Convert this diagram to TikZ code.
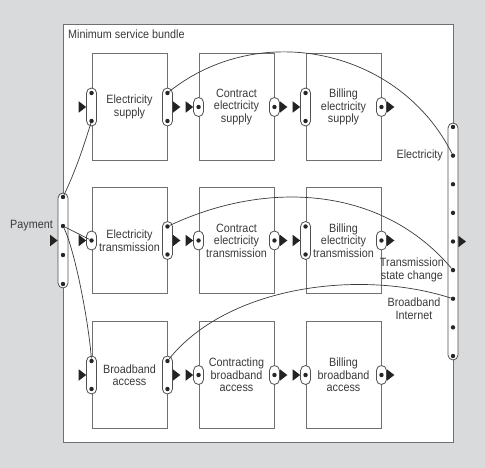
\documentclass[tikz,border=0pt]{standalone}
\usepackage{fontspec}
\setmainfont{Liberation Sans}[FakeStretch=0.9]
\usetikzlibrary{positioning,calc}
\definecolor{bggray}{RGB}{217,218,220}
\definecolor{rulegray}{RGB}{112,112,112}
\definecolor{portgray}{RGB}{80,80,80}
\definecolor{inkgray}{RGB}{58,58,58}
\definecolor{tipgray}{RGB}{35,35,35}
\newcommand\lblfont{\fontsize{12}{12.5}\selectfont}
\tikzset{
    bundle/.style   = {rectangle, draw=rulegray, line width=0.9pt, fill=white, inner sep=0pt,
                       minimum width=390pt, minimum height=418.5pt},
    unit/.style     = {rectangle, draw=rulegray, line width=0.9pt, fill=white, inner sep=0pt,
                       minimum width=75pt, minimum height=106.5pt, align=center,
                       text=inkgray, font=\lblfont},
    port/.style     = {rectangle, rounded corners=5pt, draw=portgray, line width=0.8pt,
                       fill=white, inner sep=0pt, minimum width=10pt},
    longport/.style = {port, minimum height=38pt},
    shortport/.style= {port, minimum height=19pt},
    pin/.style      = {circle, fill=black!85, minimum size=4.4pt, inner sep=0pt},
    caption/.style  = {inner sep=0pt, align=center, text=inkgray, font=\lblfont},
    link/.style     = {draw=inkgray, line width=0.7pt},
    tipr/.pic       = {\fill[tipgray] (0,5.75pt) -- (7.5pt,0) -- (0,-5.75pt) -- cycle;}
}
\begin{document}
\begin{tikzpicture}[x=1pt, y=-1pt]
    % Background and bundle frame
    \fill[bggray] (0,0) rectangle (485,468);
    \node[bundle] (msb) at (258,233.25) {};
    \node[caption, anchor=base west] (msblbl) at (68,39) {Minimum service bundle};

    % Service units (rows: supply, transmission, broadband)
    \node[unit] (sup)  at (129.5,107)   {Electricity\\supply};
    \node[unit] (csup) at (236.5,107)   {Contract\\electricity\\supply};
    \node[unit] (bsup) at (343.5,107)   {Billing\\electricity\\supply};
    \node[unit] (trn)  at (129.5,240.5) {Electricity\\transmission};
    \node[unit] (ctrn) at (236.5,240.5) {Contract\\electricity\\transmission};
    \node[unit] (btrn) at (343.5,240.5) {Billing\\electricity\\transmission};
    \node[unit] (bba)  at (129.5,375)   {Broadband\\access};
    \node[unit] (cbba) at (236.5,375)   {Contracting\\broadband\\access};
    \node[unit] (bbba) at (343.5,375)   {Billing\\broadband\\access};

    % Ports on the units
    \node[longport]  (sup-l)  at (sup.west)  {};
    \node[longport]  (sup-r)  at (sup.east)  {};
    \node[shortport] (csup-l) at (csup.west) {};
    \node[shortport] (csup-r) at (csup.east) {};
    \node[longport]  (bsup-l) at (bsup.west) {};
    \node[shortport] (bsup-r) at (bsup.east) {};
    \node[shortport] (trn-l)  at (trn.west)  {};
    \node[longport]  (trn-r)  at (trn.east)  {};
    \node[shortport] (ctrn-l) at (ctrn.west) {};
    \node[shortport] (ctrn-r) at (ctrn.east) {};
    \node[longport]  (btrn-l) at (btrn.west) {};
    \node[shortport] (btrn-r) at (btrn.east) {};
    \node[longport]  (bba-l)  at (bba.west)  {};
    \node[longport]  (bba-r)  at (bba.east)  {};
    \node[shortport] (cbba-l) at (cbba.west) {};
    \node[shortport] (cbba-r) at (cbba.east) {};
    \node[shortport] (bbba-l) at (bbba.west) {};
    \node[shortport] (bbba-r) at (bbba.east) {};

    % Bundle ports
    \node[port, minimum height=95pt]  (pay)  at (63,240.5)  {};
    \node[port, minimum height=237pt] (elec) at (453,241.5) {};

    % Pins
    \foreach \p in {sup-l,sup-r,bsup-l,trn-r,btrn-l,bba-l,bba-r} {
        \node[pin] (\p1) at ([yshift=14pt]\p.center)  {};
        \node[pin] (\p2) at ([yshift=-14pt]\p.center) {};
    }
    \foreach \p in {csup-l,csup-r,bsup-r,trn-l,ctrn-l,ctrn-r,btrn-r,cbba-l,cbba-r,bbba-l,bbba-r}
        \node[pin] (\p0) at (\p.center) {};
    \foreach \i/\dy in {1/43.5,2/14.5,3/-14.5,4/-43.5}
        \node[pin] (pay-\i) at ([yshift=\dy pt]pay.center) {};
    \foreach \i in {1,...,9}
        \node[pin] (elec-\i) at ([yshift={(5-\i)*28.625pt}]elec.center) {};

    % Flow tips
    \foreach \p in {sup-l,csup-l,bsup-l,trn-l,ctrn-l,btrn-l,bba-l,cbba-l,bbba-l,pay}
        \pic at ([xshift=-7.5pt]\p.west) {tipr};
    \foreach \p in {sup-r,csup-r,bsup-r,trn-r,ctrn-r,btrn-r,bba-r,cbba-r,bbba-r,elec}
        \pic at (\p.east) {tipr};

    % Port labels
    \node[caption, anchor=east] (paylbl) at ([xshift=-10pt]pay-2) {Payment};
    \node[caption, anchor=east] (ellbl)  at ([xshift=-10pt]elec-2) {Electricity};
    \node[caption, anchor=east] (tsclbl) at ([xshift=-9pt]elec-6) {Transmission\\state change};
    \node[caption] (bilbl) at ([xshift=-39pt,yshift=-10pt]elec-7) {Broadband\\Internet};

    % Links
    \draw[link] (pay-1) .. controls +(13,-27) and +(-7.5,24) .. (sup-l2);
    \draw[link] (pay-2) -- (trn-l0);
    \draw[link] (pay-2) .. controls +(12,25) and +(-3,-40) .. (bba-l1);
    \draw[link] (sup-r1) .. controls +(93,-74) and +(-53,-106) .. (elec-2);
    \draw[link] (trn-r1) .. controls +(100,-47) and +(-71,-84) .. (elec-6);
    \draw[link] (bba-r1) .. controls +(60,-75) and +(-93,-30) .. (elec-7);
\end{tikzpicture}
\end{document}
